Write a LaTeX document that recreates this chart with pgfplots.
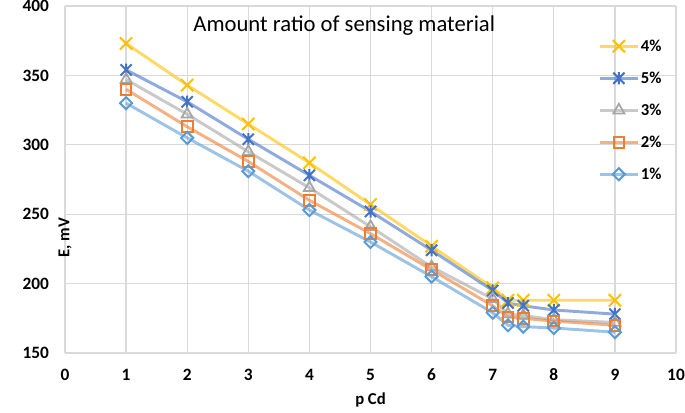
\documentclass[border=0pt]{standalone}
\usepackage{pgfplots}
\pgfplotsset{compat=1.18}
\usepackage{fontspec}
\setmainfont{Carlito}

\definecolor{c4}{HTML}{FFC000}
\definecolor{c5}{HTML}{4472C4}
\definecolor{c3}{HTML}{A5A5A5}
\definecolor{c2}{HTML}{ED7D31}
\definecolor{c1}{HTML}{5B9BD5}

% cross and cross with a vertical bar, as Excel draws them
\pgfdeclareplotmark{xcross}{%
  \pgfpathmoveto{\pgfpoint{-\pgfplotmarksize}{-\pgfplotmarksize}}%
  \pgfpathlineto{\pgfpoint{\pgfplotmarksize}{\pgfplotmarksize}}%
  \pgfpathmoveto{\pgfpoint{-\pgfplotmarksize}{\pgfplotmarksize}}%
  \pgfpathlineto{\pgfpoint{\pgfplotmarksize}{-\pgfplotmarksize}}%
  \pgfusepathqstroke}
\pgfdeclareplotmark{xstar}{%
  \pgfpathmoveto{\pgfpoint{-\pgfplotmarksize}{-\pgfplotmarksize}}%
  \pgfpathlineto{\pgfpoint{\pgfplotmarksize}{\pgfplotmarksize}}%
  \pgfpathmoveto{\pgfpoint{-\pgfplotmarksize}{\pgfplotmarksize}}%
  \pgfpathlineto{\pgfpoint{\pgfplotmarksize}{-\pgfplotmarksize}}%
  \pgfpathmoveto{\pgfpoint{0pt}{-1.1\pgfplotmarksize}}%
  \pgfpathlineto{\pgfpoint{0pt}{1.1\pgfplotmarksize}}%
  \pgfusepathqstroke}

\pgfplotstableread{
x     p4   p5   p3   p2   p1
1     373  354  347  340  330
2     343  331  322  313  305
3     315  304  295  288  281
4     287  278  269  260  253
5     257  252  241  236  230
6     227  224  212  210  205
7     197  195  189  184  179
7.25  188  186  178  176  170
7.5   188  184  177  175  169
8     188  181  174  173  168
9     188  178  172  170  165
}\datatable

\begin{document}
\begin{tikzpicture}
\useasboundingbox (-48.75pt,-44.25pt) rectangle (465pt,264.75pt);
\begin{axis}[
    scale only axis,
    width=458.25pt, height=260.25pt,
    xmin=0, xmax=10,
    ymin=150, ymax=400,
    xtick={0,1,...,10},
    ytick={150,200,...,400},
    grid=major,
    grid style={color=black!15, line width=1pt},
    axis line style={draw=none},
    tick style={draw=none},
    /pgf/number format/assume math mode=true,
    ticklabel style={font=\bfseries\fontsize{13}{13}\selectfont},
    xticklabel style={anchor=center, yshift=-16.5pt},
    yticklabel style={anchor=east, xshift=-8.5pt},
    xlabel={p Cd},
    ylabel={E, mV},
    label style={font=\bfseries\fontsize{12.5}{12.5}\selectfont},
    xlabel style={at={(axis description cs:0.5,0)}, anchor=center, yshift=-35pt},
    ylabel style={at={(axis description cs:0,0.5)}, anchor=center, xshift=-43.5pt},
    every axis plot/.append style={line width=2.2pt, draw opacity=0.6},
    legend image code/.code={%
        \draw[#1, mark repeat=2, mark phase=2]
        plot coordinates {(0pt,0pt) (14.5pt,0pt) (29pt,0pt)};},
    legend style={
        at={(axis cs:8.72,376)}, anchor=north west,
        draw=none, fill=none, inner sep=0pt,
        font=\bfseries\fontsize{12.5}{12.5}\selectfont,
        nodes={inner sep=1pt, text height=8pt, text depth=0pt},
        row sep=14pt,
        /tikz/every even column/.append style={column sep=3pt},
    },
    legend cell align=left,
]
\addplot[color=c4, mark=xcross, mark size=4.6pt,
    mark options={draw opacity=1, line width=1.5pt}]
    table[x=x, y=p4] {\datatable};
\addplot[color=c5, mark=xstar, mark size=4.2pt,
    mark options={draw opacity=1, line width=1.5pt}]
    table[x=x, y=p5] {\datatable};
\addplot[color=c3, mark=triangle, mark size=4.8pt,
    mark options={draw opacity=1, line width=1.3pt}]
    table[x=x, y=p3] {\datatable};
\addplot[color=c2, mark=square, mark size=4pt,
    mark options={draw opacity=1, line width=1.5pt}]
    table[x=x, y=p2] {\datatable};
\addplot[color=c1, mark=square, mark size=3.2pt,
    mark options={draw opacity=1, line width=1.5pt, rotate=45}]
    table[x=x, y=p1] {\datatable};
\legend{4\%, 5\%, 3\%, 2\%, 1\%}
\node[font=\fontsize{17}{17}\selectfont] at (rel axis cs:0.457,0.945)
    {Amount ratio of sensing material};
\end{axis}
\end{tikzpicture}
\end{document}
